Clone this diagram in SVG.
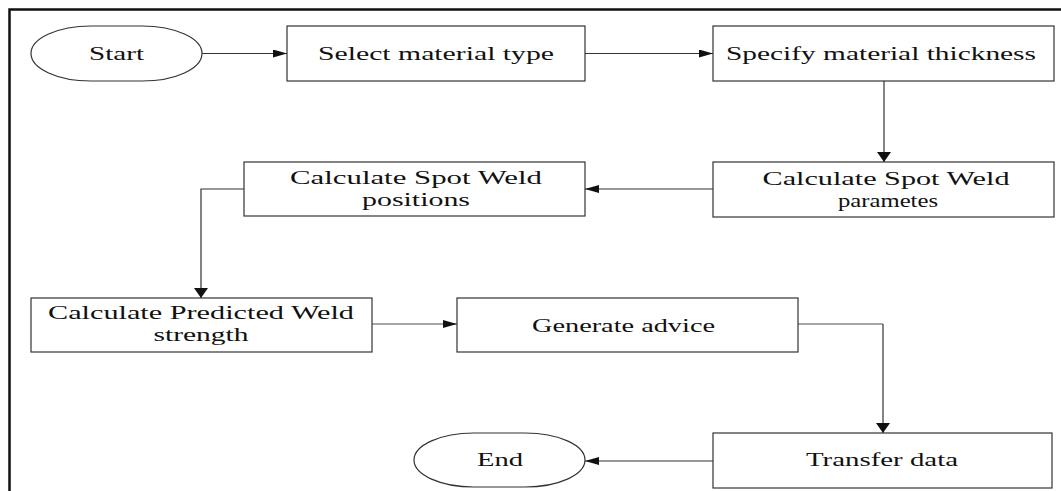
<svg xmlns="http://www.w3.org/2000/svg" width="1061" height="491" viewBox="0 0 1061 491">
<style>
.b{fill:#fff;stroke:#333;stroke-width:1.2}
.t{font-family:"Liberation Serif","Times New Roman",Times,serif;font-size:19px;fill:#111;text-anchor:middle}
.c{fill:none;stroke:#333;stroke-width:1.2}
.g{fill:none;stroke:#888;stroke-width:1.4}
</style>
<defs>
<marker id="ah" viewBox="0 0 14 8" markerWidth="14" markerHeight="8" refX="14" refY="4" orient="auto" markerUnits="userSpaceOnUse"><path d="M0,0 L14,4 L0,8 Z" fill="#111"/></marker>
<marker id="av" viewBox="0 0 10 14" markerWidth="10" markerHeight="14" refX="10" refY="7" orient="auto" markerUnits="userSpaceOnUse"><path d="M0,0 L10,7 L0,14 Z" fill="#111"/></marker>
</defs>
<rect width="1061" height="491" fill="#fff"/>
<g id="frame"><path d="M9.5,491 V9.5 H1061" fill="none" stroke="#111" stroke-width="2.5"/></g>
<g id="connectors">
<path class="c" d="M202,53.5 H287" marker-end="url(#ah)"/>
<path class="c" d="M585,53.5 H713" marker-end="url(#ah)"/>
<path class="c" d="M884,81 V162" marker-end="url(#av)"/>
<path class="c" d="M713,189 H585" marker-end="url(#ah)"/>
<path class="c" d="M244,189 H201 V298" marker-end="url(#av)"/>
<path class="g" d="M372,324 H457" marker-end="url(#ah)"/>
<path class="g" d="M798,324 H883"/>
<path class="c" d="M883,324 V433" marker-end="url(#av)"/>
<path class="c" d="M713,461 H585" marker-end="url(#ah)"/>
</g>
<g id="start"><rect class="b" x="31" y="26" width="171" height="55" rx="60" ry="27.5"/><text class="t" x="116.5" y="59.5" textLength="55" lengthAdjust="spacingAndGlyphs">Start</text></g>
<g id="select"><rect class="b" x="287" y="26" width="298" height="55"/><text class="t" x="436" y="60" textLength="236" lengthAdjust="spacingAndGlyphs">Select material type</text></g>
<g id="specify"><rect class="b" x="713" y="26" width="341" height="55"/><text class="t" x="881" y="60" textLength="310" lengthAdjust="spacingAndGlyphs">Specify material thickness</text></g>
<g id="params"><rect class="b" x="713" y="162" width="341" height="55"/><text class="t" x="886" y="184.5" textLength="247" lengthAdjust="spacingAndGlyphs">Calculate Spot Weld</text><text class="t" x="888" y="206.5" textLength="100" lengthAdjust="spacingAndGlyphs">parametes</text></g>
<g id="positions"><rect class="b" x="244" y="162" width="341" height="54"/><text class="t" x="416" y="184" textLength="252" lengthAdjust="spacingAndGlyphs">Calculate Spot Weld</text><text class="t" x="416" y="206" textLength="108" lengthAdjust="spacingAndGlyphs">positions</text></g>
<g id="predicted"><rect class="b" x="31" y="298" width="341" height="54"/><text class="t" x="201" y="319" textLength="306" lengthAdjust="spacingAndGlyphs">Calculate Predicted Weld</text><text class="t" x="201" y="341" textLength="95" lengthAdjust="spacingAndGlyphs">strength</text></g>
<g id="generate"><rect class="b" x="457" y="298" width="341" height="54"/><text class="t" x="623.5" y="332" textLength="183" lengthAdjust="spacingAndGlyphs">Generate advice</text></g>
<g id="transfer"><rect class="b" x="713" y="433" width="339" height="55"/><text class="t" x="882" y="466" textLength="152" lengthAdjust="spacingAndGlyphs">Transfer data</text></g>
<g id="end"><rect class="b" x="414" y="433" width="171" height="54" rx="60" ry="27"/><text class="t" x="500" y="466" textLength="46" lengthAdjust="spacingAndGlyphs">End</text></g>
</svg>
